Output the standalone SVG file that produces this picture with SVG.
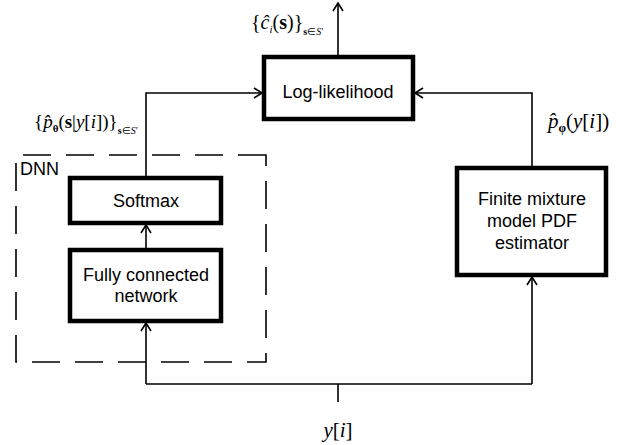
<svg xmlns="http://www.w3.org/2000/svg" width="639" height="445" viewBox="0 0 639 445">
<defs>
<style>
.box{fill:#fff;stroke:#000;stroke-width:4.5}
.lbl{font-family:"Liberation Sans",Arial,sans-serif;font-size:18px;fill:#000;text-anchor:middle}
.conn{fill:none;stroke:#000;stroke-width:1.6}
.math{font-family:"Liberation Serif","Times New Roman",serif;fill:#000}
.it{font-style:italic}
.bf{font-weight:bold}
</style>
<marker id="arr" markerUnits="userSpaceOnUse" markerWidth="14" markerHeight="14" refX="10" refY="6" orient="auto">
<path d="M2,1 L10,6 L2,11" fill="none" stroke="#000" stroke-width="1.6"/>
</marker>
</defs>
<rect width="639" height="445" fill="#fff"/>

<g id="dnn-frame">
<path d="M266,155 H16 V362 H266 Z" fill="none" stroke="#000" stroke-width="1.6" stroke-dasharray="28 15"/>
<text x="20" y="175" font-family="Liberation Sans,Arial,sans-serif" font-size="18">DNN</text>
</g>

<g id="connectors">
<path class="conn" d="M338,55 V3" marker-end="url(#arr)"/>
<path class="conn" d="M146,176 V93 H262" marker-end="url(#arr)"/>
<path class="conn" d="M532,166 V93 H415" marker-end="url(#arr)"/>
<path class="conn" d="M146,248 V225" marker-end="url(#arr)"/>
<path class="conn" d="M146,384 H532"/>
<path class="conn" d="M338,402 V384"/>
<path class="conn" d="M146,384 V323" marker-end="url(#arr)"/>
<path class="conn" d="M532,384 V277" marker-end="url(#arr)"/>
</g>

<g id="loglikelihood">
<rect class="box" x="264" y="57" width="149" height="62"/>
<text class="lbl" x="338" y="98">Log-likelihood</text>
</g>

<g id="softmax">
<rect class="box" x="70" y="178" width="151" height="45"/>
<text class="lbl" x="146" y="207">Softmax</text>
</g>

<g id="fcn">
<rect class="box" x="70" y="250" width="151" height="71"/>
<text class="lbl" x="146" y="281">Fully connected</text>
<text class="lbl" x="146" y="302">network</text>
</g>

<g id="fmm">
<rect class="box" x="457" y="168" width="149" height="107"/>
<text class="lbl" x="532" y="205">Finite mixture</text>
<text class="lbl" x="532" y="227">model PDF</text>
<text class="lbl" x="532" y="249">estimator</text>
</g>

<g id="labels">
<text class="math" x="251" y="29" font-size="20">{<tspan class="it">ĉ</tspan><tspan class="it" font-size="11" dy="4">i</tspan><tspan dy="-4">(</tspan><tspan class="bf">s</tspan>)}<tspan font-size="10" dy="6"><tspan class="bf">s</tspan>∈<tspan class="it">S</tspan>′</tspan></text>
<text class="math" x="34" y="128" font-size="19">{<tspan class="it">p̂</tspan><tspan class="bf" font-size="11" dy="4">θ</tspan><tspan dy="-4">(</tspan><tspan class="bf">s</tspan>|<tspan class="it">y</tspan>[<tspan class="it">i</tspan>])}<tspan font-size="10" dy="6"><tspan class="bf">s</tspan>∈<tspan class="it">S</tspan>′</tspan></text>
<text class="math" x="548" y="128" font-size="21"><tspan class="it">p̂</tspan><tspan class="bf" font-size="12" dy="4">φ</tspan><tspan dy="-4">(</tspan><tspan class="it">y</tspan>[<tspan class="it">i</tspan>])</text>
<text class="math" x="338" y="437" font-size="21" text-anchor="middle"><tspan class="it">y</tspan>[<tspan class="it">i</tspan>]</text>
</g>
</svg>
